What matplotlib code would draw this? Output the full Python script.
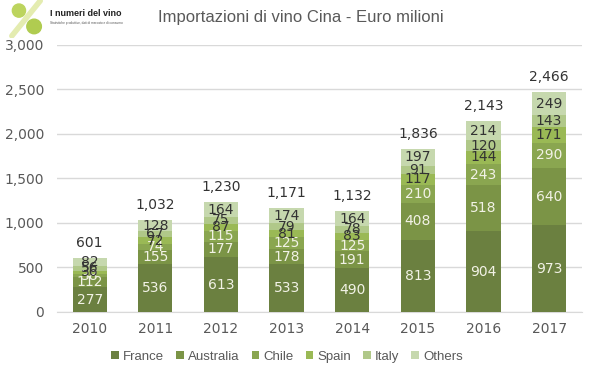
import matplotlib
matplotlib.use("Agg")
import matplotlib.pyplot as plt
import numpy as np

years = ["2010", "2011", "2012", "2013", "2014", "2015", "2016", "2017"]
france = [277, 536, 613, 533, 490, 813, 904, 973]
australia = [112, 155, 177, 178, 191, 408, 518, 640]
chile = [38, 74, 115, 125, 125, 210, 243, 290]
spain = [36, 72, 87, 81, 83, 117, 144, 171]
italy = [56, 67, 75, 79, 78, 91, 120, 143]
others = [82, 128, 164, 174, 164, 197, 214, 249]
totals = [601, 1032, 1230, 1171, 1132, 1836, 2143, 2466]

series = [("France", france, "#6b8040", "#f2f2e6"),
          ("Australia", australia, "#7b9446", "#f2f2e6"),
          ("Chile", chile, "#8aa650", "#f2f2e6"),
          ("Spain", spain, "#9ab955", "#333333"),
          ("Italy", italy, "#b0c889", "#333333"),
          ("Others", others, "#c6d8ae", "#333333")]

fig = plt.figure(figsize=(5.92, 3.78), dpi=100)
ax = fig.add_axes([0.096, 0.175, 0.887, 0.706])
x = np.arange(len(years))
bottom = np.zeros(len(years))
for name, vals, col, tcol in series:
    v = np.array(vals, dtype=float)
    ax.bar(x, v, 0.52, bottom=bottom, color=col, label=name, zorder=3)
    for xi, b, val in zip(x, bottom, v):
        ax.text(xi, b + val / 2, f"{int(val)}", ha="center", va="center",
                fontsize=10, color=tcol, zorder=4)
    bottom += v

for xi, t, b in zip(x, totals, bottom):
    ax.text(xi, b + 90, f"{t:,}", ha="center", va="bottom", fontsize=10, color="#333333")

ax.set_xlim(-0.5, 7.5)
ax.set_ylim(0, 3000)
ax.set_yticks(np.arange(0, 3001, 500))
ax.set_yticklabels([f"{v:,}" for v in range(0, 3001, 500)])
ax.set_xticks(x)
ax.set_xticklabels(years)
ax.tick_params(axis="both", length=0, labelsize=10, colors="#595959")
ax.tick_params(axis="y", pad=9)
ax.tick_params(axis="x", pad=7)
ax.grid(axis="y", color="#d9d9d9", linewidth=1, zorder=0)
for s in ["top", "right", "left"]:
    ax.spines[s].set_visible(False)
ax.spines["bottom"].set_color("#d9d9d9")

fig.text(0.508, 0.955, "Importazioni di vino Cina - Euro milioni", ha="center", va="center",
         fontsize=12, color="#595959", family="Liberation Sans")

# logo approximation
fig.text(0.085, 0.963, "I numeri del vino", ha="left", va="center", fontsize=6.5,
         color="#222222", family="Liberation Sans", weight="bold")
fig.text(0.085, 0.94, "Statistiche produttive, dati di mercato e di consumo", ha="left",
         va="center", fontsize=2.3, color="#555555", family="Liberation Sans")
lax = fig.add_axes([0.0, 0.9, 0.08, 0.1])
lax.set_xlim(0, 1); lax.set_ylim(0, 1); lax.axis("off")
lax.plot([0.25, 0.85], [0.05, 0.98], color="#e4ecb0", lw=4, solid_capstyle="round")
lax.scatter([0.4, 0.72], [0.72, 0.3], s=[90, 110], color=["#bcd45e", "#b0cc50"], zorder=3)

fig.legend(*ax.get_legend_handles_labels(), loc="center", bbox_to_anchor=(0.485, 0.056),
           ncol=6, frameon=False, prop={"family": "Liberation Sans", "size": 9.5},
           handlelength=0.6, handleheight=0.6, handletextpad=0.3,
           columnspacing=0.9, labelcolor="#595959")

fig.savefig("out.png", dpi=100)
